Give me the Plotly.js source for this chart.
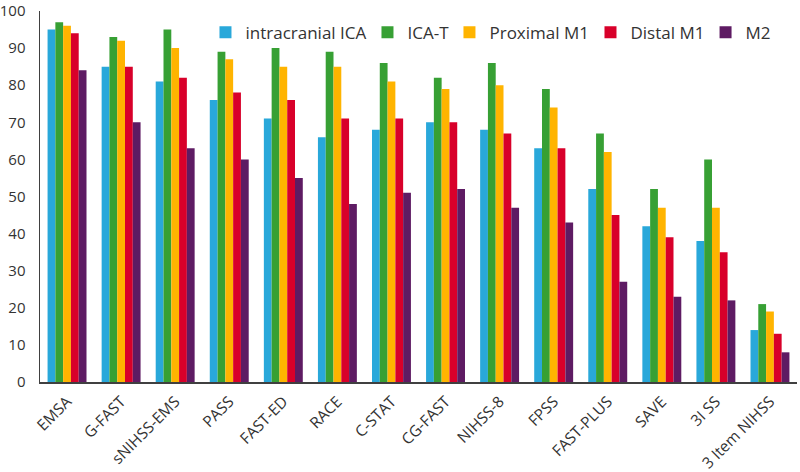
<!DOCTYPE html>
<html>
<head>
<meta charset="utf-8">
<script src="https://cdn.plot.ly/plotly-3.0.1.min.js"></script>
<style>html,body{margin:0;padding:0;background:#fff;}#chart{width:800px;height:472px;}</style>
</head>
<body>
<div id="chart"></div>
<script>
const categories = ["EMSA","G-FAST","sNIHSS-EMS","PASS","FAST-ED","RACE","C-STAT","CG-FAST","NIHSS-8","FPSS","FAST-PLUS","SAVE","3I SS","3 Item NIHSS"];
const seriesNames = ["intracranial ICA","ICA-T","Proximal M1","Distal M1","M2"];
const intracranialICA = [95,85,81,76,71,66,68,70,68,63,52,42,38,14];
const icaT            = [97,93,95,89,90,89,86,82,86,79,67,52,60,21];
const proximalM1      = [96,92,90,87,85,85,81,79,80,74,62,47,47,19];
const distalM1        = [94,85,82,78,76,71,71,70,67,63,45,39,35,13];
const m2              = [84,70,63,60,55,48,51,52,47,43,27,23,22,8];
const yTicks = [0,10,20,30,40,50,60,70,80,90,100];

const colors = ["#29a8da","#37a034","#ffb400","#d8002a","#5e1b63"];
const values = [intracranialICA, icaT, proximalM1, distalM1, m2];
const legendIds = ["legend","legend2","legend3","legend4","legend5"];
const legendX = [0.2186, 0.4326, 0.5409, 0.7272, 0.8792];

const data = values.map((v,i)=>({
  type:'bar', name: seriesNames[i], x: categories, y: v, legend: legendIds[i],
  marker:{color: colors[i], line:{width:0}}
}));

const fam = '"Open Sans", "Noto Sans", sans-serif';
const layout = {
  width:800, height:472,
  margin:{l:40, r:3, t:11, b:90},
  paper_bgcolor:'#fff', plot_bgcolor:'#fff',
  font: {family:fam, size:16, color:'#333333'},
  barmode:'group', bargap:0.28, bargroupgap:0,
  showlegend:true,
  xaxis:{type:'category', showline:true, linecolor:'#404040', linewidth:1.5, ticks:'outside', ticklen:3,
         tickcolor:'rgba(0,0,0,0)', tickangle:-45,
         showgrid:false, zeroline:false, tickfont:{family:fam, size:15.5, color:'#333333'}},
  yaxis:{range:[0,100], tickvals:yTicks, showline:true, linecolor:'#404040', linewidth:1.5,
         ticks:'outside', ticklen:10, tickcolor:'rgba(0,0,0,0)', showgrid:false, zeroline:false,
         ticklabeloverflow:'allow', tickfont:{family:fam, size:15, color:'#333333'}}
};
legendIds.forEach((id,i)=>{
  layout[id] = {orientation:'h', x:legendX[i], y:0.99, xanchor:'left', yanchor:'top',
    font:{family:fam, size:17, color:'#333333'}, bgcolor:'rgba(0,0,0,0)', itemwidth:30};
});
Plotly.newPlot('chart', data, layout, {displayModeBar:false, staticPlot:true});
</script>
</body>
</html>
